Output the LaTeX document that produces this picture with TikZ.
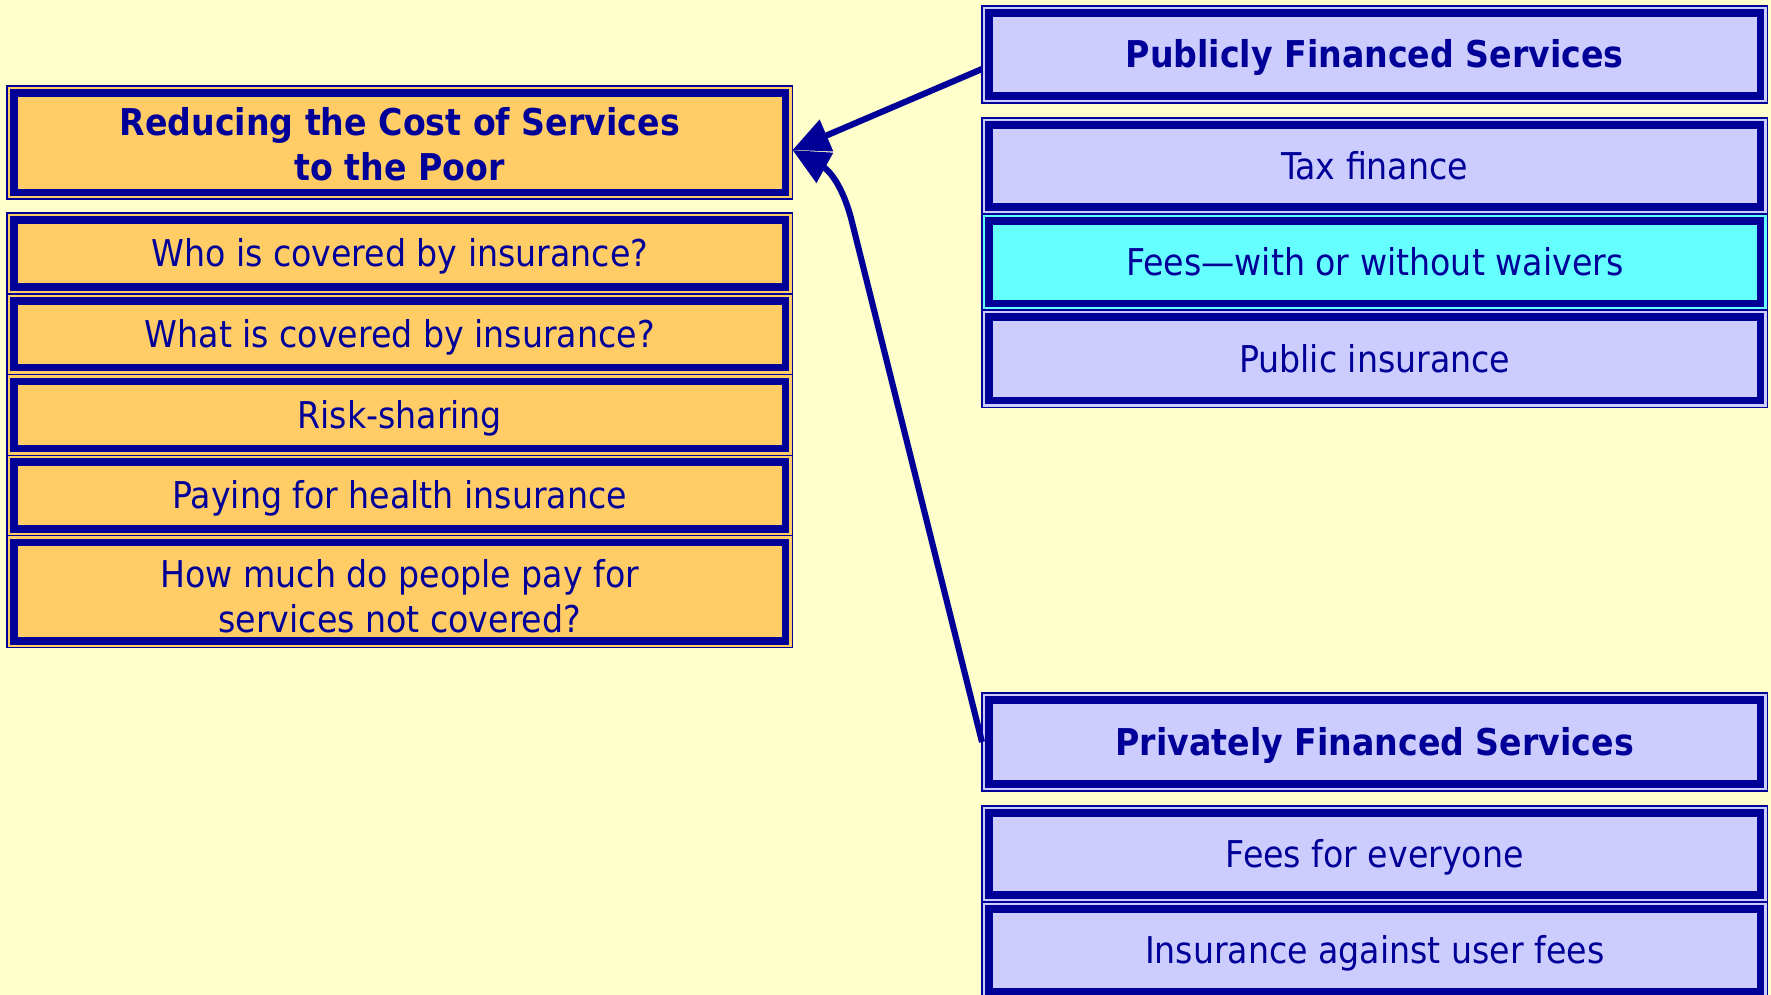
\documentclass[tikz,border=0pt]{standalone}
\usepackage{fontspec}
\setmainfont{DejaVu Sans Condensed}
\usetikzlibrary{positioning,arrows.meta}
\definecolor{bgyellow}{HTML}{FFFFCC}
\definecolor{navy}{HTML}{000099}
\definecolor{orangefill}{HTML}{FFCC66}
\definecolor{lavender}{HTML}{CCCCFF}
\definecolor{aqua}{HTML}{66FFFF}
\tikzset{
  cell/.style={
    draw=navy, line width=0.35pt, fill=#1, text=navy,
    minimum width=7.85cm, inner sep=0pt, outer sep=0pt, align=center,
    font=\fontsize{10.5}{12.8}\selectfont,
    text height=7.65pt, text depth=0pt,
    path picture={
      \draw[navy, line width=2.1pt]
        ([shift={(1.95pt,1.95pt)}]path picture bounding box.south west)
        rectangle ([shift={(-1.95pt,-1.95pt)}]path picture bounding box.north east);
    }
  },
  twolines/.style={text height=#1, text depth=0pt},
  twolines/.default=21.8pt,
  head/.style={font=\fontsize{10.5}{12.8}\selectfont\bfseries},
  link/.style={draw=navy, line width=1.75pt, -{Triangle[length=0.37cm,width=0.33cm]}}
}

\begin{document}
\begin{tikzpicture}[x=0.01cm,y=-0.01cm]
  \fill[bgyellow] (0,0) rectangle (1771,995);
  \useasboundingbox (0,0) rectangle (1771,995);

  % Left column: the goal and the questions under it
  \node[cell=orangefill, head, twolines, anchor=north west, minimum height=1.13cm]
    (title) at (7,86) {Reducing the Cost of Services\\to the Poor};
  \node[cell=orangefill, anchor=north west, minimum height=0.81cm] (who) at (7,213) {Who is covered by insurance?};
  \node[cell=orangefill, below=0pt of who, minimum height=0.805cm] (what) {What is covered by insurance?};
  \node[cell=orangefill, below=0pt of what, minimum height=0.805cm] (risk) {Risk-sharing};
  \node[cell=orangefill, below=0pt of risk, minimum height=0.805cm] (paying) {Paying for health insurance};
  \node[cell=orangefill, twolines=23.3pt, below=0pt of paying, minimum height=1.12cm] (howmuch) {How much do people pay for\\services not covered?};

  % Right column, public side
  \node[cell=lavender, head, anchor=north west, minimum height=0.97cm] (pub) at (982,6) {Publicly Financed Services};
  \node[cell=lavender, anchor=north west, minimum height=0.96cm] (tax) at (982,118) {Tax finance};
  \node[cell=aqua, below=0pt of tax, minimum height=0.96cm] (fees) {Fees---with or without waivers};
  \node[cell=lavender, below=0pt of fees, minimum height=0.97cm] (pubins) {Public insurance};

  % Right column, private side
  \node[cell=lavender, head, anchor=north west, minimum height=0.98cm] (priv) at (982,693) {Privately Financed Services};
  \node[cell=lavender, anchor=north west, minimum height=0.96cm] (feesall) at (982,806) {Fees for everyone};
  \node[cell=lavender, below=0pt of feesall, minimum height=0.96cm] (insfees) {Insurance against user fees};

  % Both sides feed into the goal
  \draw[link] ([yshift=-0.145cm]pub.west) -- ([yshift=-0.075cm]title.east);
  \draw[link] (priv.west) -- (851,218) .. controls (840,178) and (825,168) .. ([yshift=-0.075cm]title.east);
\end{tikzpicture}
\end{document}
